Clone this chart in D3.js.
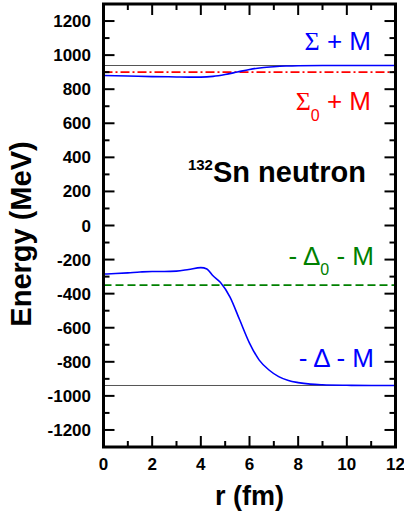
<!DOCTYPE html>
<html lang="en">
<head>
  <meta charset="utf-8">
  <title>132Sn neutron potentials</title>
  <script src="https://d3js.org/d3.v7.min.js"></script>
  <style>
    body { margin: 0; background: #fff; }
    text { font-family: "Liberation Sans", Arial, sans-serif; }
  </style>
</head>
<body>
<script>
// radius grid for the two potentials (fm)
var sigmaR   = [0, 1, 2, 3, 3.5, 4, 4.5, 5, 5.5, 6, 6.5, 7, 7.5, 8, 9, 10, 11, 12];
// Sigma + M (MeV)
var sigmaE   = [880, 877, 874, 872, 871, 871, 875, 886, 901, 916, 926, 932, 936, 938, 939, 939, 939, 939];

var deltaR   = [0, 0.5, 1, 1.5, 2, 2.5, 3, 3.5, 4, 4.25, 4.5, 4.8, 5.2, 5.6, 6, 6.4, 6.8, 7.2, 7.6, 8, 8.5, 9, 10, 11, 12];
// - Delta - M (MeV)
var deltaE   = [-285, -282, -278, -273, -270, -270, -268, -258, -247, -255, -295, -333, -420, -555, -690, -790, -848, -887, -910, -922, -931, -935, -938, -939, -939];

// constant levels
var massLevels = [939, -939];   // +M and -M (grey)
var sigma0M    = 900;           // Sigma0 + M
var delta0M    = -350;          // - Delta0 - M

var xTicks = [0, 2, 4, 6, 8, 10, 12];
var yTicks = [-1200, -1000, -800, -600, -400, -200, 0, 200, 400, 600, 800, 1000, 1200];

var w = 404, h = 512;
// note: "top" is taken by window.top, so use other names
var pL = 103.5, pR = 395.5, pT = 4, pB = 447;

var x = d3.scaleLinear().domain([0, 12]).range([pL, pR]);
var y = d3.scaleLinear().domain([-1300, 1300]).range([pB, pT]);

var svg = d3.select('body').append('svg')
  .attr('width', w)
  .attr('height', h);

// clip curves to the frame
svg.append('clipPath').attr('id', 'plot')
  .append('rect').attr('x', pL).attr('y', pT)
  .attr('width', pR - pL).attr('height', pB - pT);

var g = svg.append('g').attr('clip-path', 'url(#plot)');

// grey M lines
g.selectAll('.mline').data(massLevels).enter().append('line')
  .attr('class', 'mline')
  .attr('x1', x(0)).attr('x2', x(12))
  .attr('y1', function(d) { return y(d); })
  .attr('y2', function(d) { return y(d); })
  .attr('stroke', '#555').attr('stroke-width', 1);

// Sigma0 + M  dash-dot
g.append('line')
  .attr('x1', x(0)).attr('x2', x(12))
  .attr('y1', y(sigma0M)).attr('y2', y(sigma0M))
  .attr('stroke', '#ff0000').attr('stroke-width', 1.6)
  .attr('stroke-dasharray', '9,3,2,3');

// -Delta0 - M dashed
g.append('line')
  .attr('x1', x(0)).attr('x2', x(12))
  .attr('y1', y(delta0M)).attr('y2', y(delta0M))
  .attr('stroke', '#008000').attr('stroke-width', 1.6)
  .attr('stroke-dasharray', '8,4');

var line = d3.line()
  .x(function(d) { return x(d[0]); })
  .y(function(d) { return y(d[1]); })
  .curve(d3.curveMonotoneX);

g.append('path')
  .attr('d', line(d3.zip(sigmaR, sigmaE)))
  .attr('fill', 'none').attr('stroke', '#0000ff').attr('stroke-width', 1.6);

g.append('path')
  .attr('d', line(d3.zip(deltaR, deltaE)))
  .attr('fill', 'none').attr('stroke', '#0000ff').attr('stroke-width', 1.6);

// ticks on all four sides, pointing inward
var xMinor = d3.range(0, 13, 1);
var yMinor = d3.range(-1200, 1201, 100);

function isMajorX(d) { return d % 2 === 0; }
function isMajorY(d) { return d % 200 === 0; }

var ticks = svg.append('g').attr('stroke', '#000').attr('stroke-width', 2);

xMinor.forEach(function(d) {
  var len = isMajorX(d) ? 11 : 6;
  ticks.append('line').attr('x1', x(d)).attr('x2', x(d)).attr('y1', pB).attr('y2', pB - len);
  ticks.append('line').attr('x1', x(d)).attr('x2', x(d)).attr('y1', pT).attr('y2', pT + len);
});
yMinor.forEach(function(d) {
  var len = isMajorY(d) ? 11 : 6;
  ticks.append('line').attr('x1', pL).attr('x2', pL + len).attr('y1', y(d)).attr('y2', y(d));
  ticks.append('line').attr('x1', pR).attr('x2', pR - len).attr('y1', y(d)).attr('y2', y(d));
});

// frame
svg.append('rect')
  .attr('x', pL).attr('y', pT)
  .attr('width', pR - pL).attr('height', pB - pT)
  .attr('fill', 'none').attr('stroke', '#000').attr('stroke-width', 3);

// tick labels
svg.selectAll('.xlab').data(xTicks).enter().append('text')
  .attr('class', 'xlab')
  .attr('x', function(d) { return x(d); })
  .attr('y', 470)
  .attr('text-anchor', 'middle')
  .attr('font-size', 17).attr('font-weight', 'bold')
  .text(function(d) { return d; });

svg.selectAll('.ylab').data(yTicks).enter().append('text')
  .attr('class', 'ylab')
  .attr('x', 91)
  .attr('y', function(d) { return y(d) + 6; })
  .attr('text-anchor', 'end')
  .attr('font-size', 17).attr('font-weight', 'bold')
  .text(function(d) { return d; });

// axis titles
svg.append('text')
  .attr('x', (pL + pR) / 2).attr('y', 505)
  .attr('text-anchor', 'middle')
  .attr('font-size', 27).attr('font-weight', 'bold')
  .text('r (fm)');

svg.append('text')
  .attr('transform', 'translate(31,234) rotate(-90)')
  .attr('text-anchor', 'middle')
  .attr('font-size', 29).attr('font-weight', 'bold')
  .text('Energy (MeV)');

// in-plot labels
var t1 = svg.append('text').attr('x', 371).attr('y', 50)
  .attr('text-anchor', 'end').attr('font-size', 26).attr('fill', '#0000ff');
t1.append('tspan').attr('font-family', 'Liberation Serif').text('\u03A3');
t1.append('tspan').text('  + M');

var t2 = svg.append('text').attr('x', 371).attr('y', 110)
  .attr('text-anchor', 'end').attr('font-size', 26).attr('fill', '#ff0000');
t2.append('tspan').attr('font-family', 'Liberation Serif').text('\u03A3');
t2.append('tspan').attr('font-size', 16).attr('dy', 11).text('0');
t2.append('tspan').attr('dy', -11).text(' + M');

var t3 = svg.append('text').attr('x', 374).attr('y', 265)
  .attr('text-anchor', 'end').attr('font-size', 26).attr('fill', '#008000');
t3.append('tspan').text('- \u0394');
t3.append('tspan').attr('font-size', 16).attr('dy', 10).text('0');
t3.append('tspan').attr('dy', -10).text(' - M');

svg.append('text').attr('x', 374).attr('y', 367)
  .attr('text-anchor', 'end').attr('font-size', 26).attr('fill', '#0000ff')
  .text('- \u0394 - M');

var t5 = svg.append('text').attr('x', 366).attr('y', 182)
  .attr('text-anchor', 'end').attr('font-size', 29).attr('font-weight', 'bold');
t5.append('tspan').attr('font-size', 15).attr('dy', -12).text('132');
t5.append('tspan').attr('dy', 12).text('Sn neutron');
</script>
</body>
</html>
